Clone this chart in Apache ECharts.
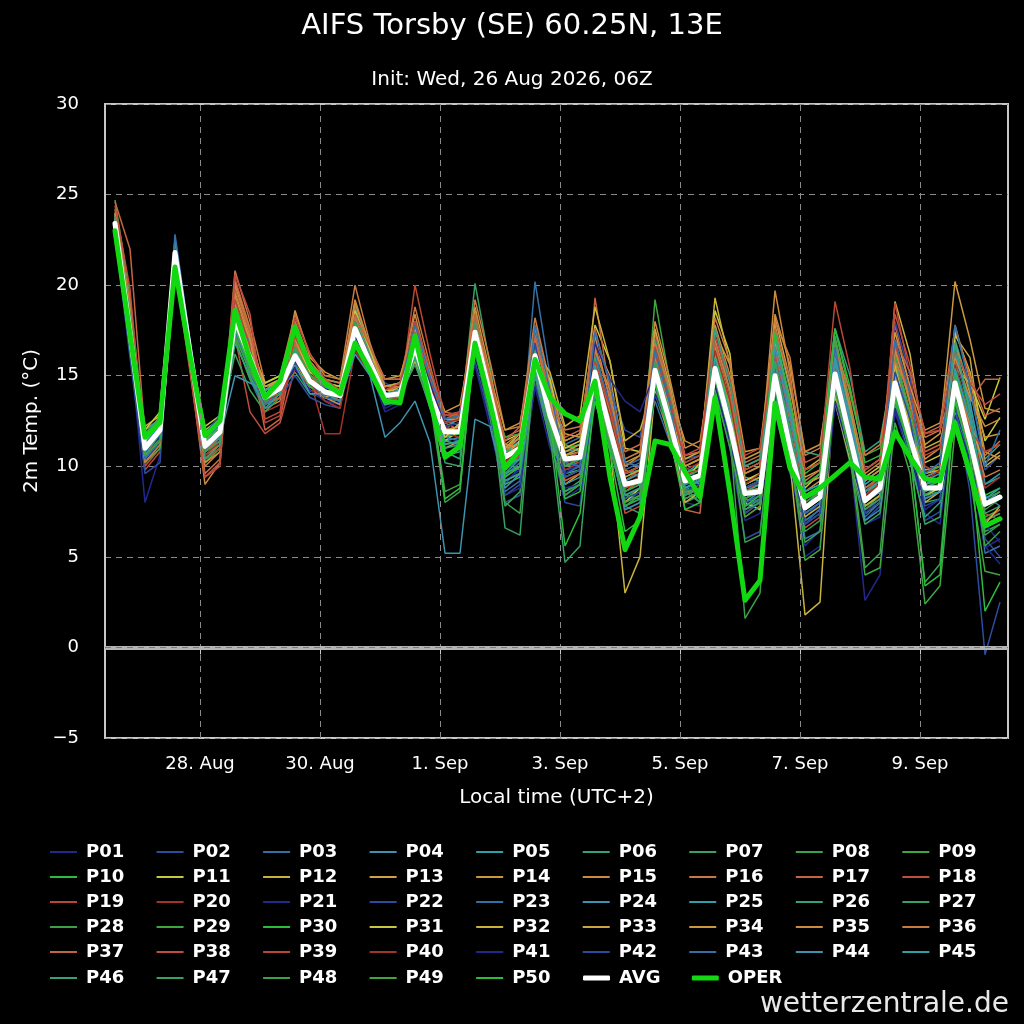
<!DOCTYPE html>
<html>
<head>
<meta charset="utf-8">
<script src="https://cdn.jsdelivr.net/npm/echarts@6/dist/echarts.min.js"></script>
<style>html,body{margin:0;padding:0;background:#000;}#c{width:1024px;height:1024px;}</style>
</head>
<body>
<div id="c"></div>
<script>
// hours since 26 Aug 2026 00:00 local time (UTC+2), 6-hourly
const hours = [14,20,26,32,38,44,50,56,62,68,74,80,86,92,98,104,110,116,122,128,134,140,146,152,158,164,170,176,182,188,194,200,206,212,218,224,230,236,242,248,254,260,266,272,278,284,290,296,302,308,314,320,326,332,338,344,350,356,362,368];
const dayTicks = [48,96,144,192,240,288,336];
const dayLabels = ['28. Aug','30. Aug','1. Sep','3. Sep','5. Sep','7. Sep','9. Sep'];
const yTicks = [-5,0,5,10,15,20,25,30];

const avg = [23.4,17.4,11.0,12.0,21.8,16.3,11.1,11.9,18.1,16.0, 13.8,14.3,16.1,14.7,14.1,13.9,17.6,15.7,13.9,14.0, 16.6,14.0,11.9,11.9,17.4,14.0,10.5,11.0,16.1,12.8, 10.4,10.5,15.2,12.0,9.0,9.2,15.3,12.4,9.2,9.5, 15.4,12.2,8.5,8.6,15.0,11.0,7.7,8.3,15.1,11.6, 8.1,8.8,14.6,11.6,8.8,8.8,14.6,11.4,7.9,8.3];
const oper = [23.0,17.3,11.6,12.4,21.0,16.1,11.7,12.5,18.6,15.9, 13.8,14.7,17.7,15.5,14.6,14.0,16.8,15.3,13.6,13.5, 17.2,13.6,10.5,11.1,16.8,13.5,9.9,10.9,15.9,13.8, 12.9,12.5,14.7,9.4,5.4,7.2,11.4,11.2,9.7,8.3, 13.8,8.5,2.6,3.7,13.5,9.9,8.3,8.8,9.5,10.2, 9.4,9.3,11.9,10.5,9.3,9.2,12.4,9.6,6.7,7.1];

const p01 = [23.2,16.8,8.0,10.6,22.0,16.0,10.2,11.5,17.5,15.2, 13.2,13.8,15.6,14.2,13.6,13.5,18.2,15.9,13.2,13.6, 17.4,14.5,11.0,11.3,18.0,14.2,8.8,9.5,17.3,12.0, 8.2,8.8,14.6,11.3,7.6,8.0,16.0,13.0,8.0,7.8, 16.2,12.5,7.0,7.4,14.2,10.0,5.6,6.5,14.0,11.0, 6.8,7.2,15.6,12.0,7.4,6.8,13.5,10.2,5.5,6.0];
const p02 = [23.6,17.9,11.4,12.4,21.6,16.5,11.6,12.3,18.6,16.5, 14.2,14.6,16.8,15.1,14.3,14.2,18.5,16.2,14.6,14.2, 16.0,13.5,12.4,12.8,17.0,13.0,9.0,10.0,15.5,12.5, 9.8,10.0,14.0,11.0,8.0,8.6,17.2,14.2,10.0,9.2, 14.8,11.0,6.0,6.4,13.0,9.6,6.8,7.7,16.2,12.6, 9.0,9.6,16.0,12.4,7.0,7.5,15.8,12.0,6.0,5.0];
const p03 = [23.0,16.5,10.2,11.4,22.5,16.8,11.8,12.5,17.0,14.8, 13.0,14.1,15.8,14.6,13.8,13.6,17.0,15.1,13.4,13.8, 16.9,14.4,12.6,12.2,16.2,13.4,9.5,10.2,20.2,15.0, 11.2,11.6,16.0,13.4,10.0,10.4,13.6,11.3,8.4,8.8, 15.9,12.8,9.0,9.4,16.4,12.4,6.0,6.4,13.8,10.4, 7.2,8.0,13.2,10.6,8.6,9.0,15.2,12.6,8.4,7.8];
const p04 = [23.5,17.2,10.6,11.8,22.3,16.1,10.8,11.6,17.8,15.5, 13.5,14.0,16.4,15.0,14.5,14.4,17.9,15.4,13.6,14.1, 16.2,13.8,11.4,11.6,17.8,14.4,11.0,11.6,16.6,13.2, 10.8,11.0,15.6,12.2,9.4,9.8,14.6,12.0,9.6,10.2, 14.0,11.4,8.0,8.6,15.6,11.6,8.2,8.8,16.4,12.2, 8.4,9.2,14.0,11.0,9.2,9.6,13.0,10.4,6.6,7.2];
const p05 = [23.8,18.3,11.8,12.6,21.9,16.6,11.4,12.2,18.9,16.8, 14.0,14.5,16.6,14.8,14.4,14.0,17.2,15.6,14.2,14.4, 15.8,13.2,11.8,12.0,17.6,14.6,10.8,11.4,15.8,12.6, 10.0,10.2,15.4,12.6,9.2,9.0,15.8,12.8,8.6,9.4, 16.8,13.4,9.4,9.2,14.6,10.6,7.4,8.0,15.6,11.8, 8.0,9.0,14.4,12.0,9.6,10.0,16.2,13.0,9.0,9.6];
const p06 = [23.3,17.0,10.8,11.9,21.5,16.0,11.0,11.8,18.4,16.2, 14.4,14.8,17.0,15.2,14.6,14.4,18.8,16.4,14.4,14.6, 17.0,14.2,10.8,10.4,18.4,14.8,9.6,10.4,17.0,13.4, 9.6,9.8,16.4,13.0,8.4,8.2,16.6,13.2,8.8,8.0, 17.8,14.0,8.8,9.0,17.6,13.0,9.0,9.4,17.2,13.4, 9.8,10.4,13.6,10.2,7.2,8.0,17.0,14.2,10.4,11.2];
const p07 = [24.0,18.8,10.4,11.6,22.0,16.4,10.6,11.4,17.6,15.8, 13.6,14.2,15.2,14.0,13.8,13.6,17.4,15.8,13.8,13.8, 16.4,14.0,12.0,12.2,20.1,15.6,10.2,9.8,15.4,11.6, 8.6,9.2,14.2,11.4,7.8,7.4,14.0,11.6,8.0,8.4, 15.2,12.0,7.6,8.2,16.0,11.4,7.0,7.6,14.4,11.2, 7.4,8.0,15.0,12.2,8.0,8.2,14.0,11.0,6.4,6.8];
const p08 = [23.1,17.6,11.2,12.2,21.4,16.2,11.5,12.0,18.0,15.6, 13.4,14.0,16.0,14.4,13.9,13.8,17.6,15.5,13.6,13.9, 16.6,14.3,12.2,11.8,17.0,13.6,9.8,10.6,16.4,13.0, 10.6,10.8,15.8,12.6,9.6,10.0,15.6,12.2,9.0,9.6, 15.8,12.6,8.2,8.0,14.8,11.0,7.8,8.6,15.4,11.4, 7.6,8.4,14.8,11.8,8.8,9.2,14.6,11.6,7.6,8.2];
const p09 = [24.7,19.4,11.6,12.8,21.2,16.0,11.2,12.6,18.8,16.6, 14.6,15.0,17.4,15.4,14.8,14.6,16.8,15.2,13.4,13.6, 17.6,14.8,12.8,13.0,18.6,14.2,10.4,11.0,16.8,12.4, 10.2,10.6,14.8,11.6,8.2,8.8,19.2,14.6,9.4,9.8, 16.2,12.4,8.4,8.8,17.2,13.6,9.6,10.2,17.6,14.0, 10.6,11.0,14.2,11.2,8.2,8.6,14.4,11.2,7.2,7.6];
const p10 = [23.6,17.5,11.3,12.3,22.1,16.7,11.6,12.4,19.2,16.4, 14.2,14.6,16.2,14.6,14.0,14.0,18.0,16.0,14.0,14.2, 16.0,13.7,11.6,11.8,17.2,13.8,10.6,11.2,16.2,12.8, 11.0,11.2,15.0,12.0,9.0,9.4,15.0,12.2,9.6,10.0, 14.8,11.6,8.6,9.0,15.2,11.2,8.4,8.8,14.8,11.4, 8.6,9.0,14.8,11.8,9.0,9.2,14.2,11.0,8.4,8.8];
const p11 = [23.2,17.1,11.6,12.5,21.7,16.4,12.2,12.8,18.2,16.6, 14.0,14.4,16.8,15.4,14.6,14.2,18.4,16.0,14.0,14.0, 16.8,14.0,11.4,12.0,17.2,14.6,11.4,11.8,15.8,13.6, 11.4,11.8,17.8,15.8,11.0,10.8,14.8,12.0,9.2,10.2, 18.6,16.2,8.0,7.6,15.0,12.6,8.8,9.6,13.8,11.8, 9.4,10.0,13.6,12.8,10.2,10.6,15.4,14.6,12.6,14.9];
const p12 = [23.4,17.3,12.2,12.8,21.3,15.8,12.0,12.6,17.4,15.2, 13.6,14.0,16.2,14.6,14.0,13.8,17.0,15.4,13.8,13.8, 15.8,13.8,12.2,12.4,16.6,14.0,11.2,11.0,15.2,13.0, 9.4,9.8,13.6,11.0,3.0,5.0,14.2,12.6,10.0,10.4, 19.3,15.6,9.8,10.2,14.0,10.2,1.8,2.5,15.0,12.0, 8.2,8.6,19.1,16.2,11.0,11.4,13.8,11.0,7.0,7.4];
const p13 = [23.0,16.8,11.2,12.1,22.2,16.8,10.8,11.4,18.6,16.2, 14.2,14.8,15.8,14.2,13.8,14.2,17.8,15.8,14.2,14.4, 17.0,14.4,11.0,11.4,16.8,13.4,9.2,9.6,15.0,11.8, 9.0,9.6,14.4,12.0,8.8,9.2,15.4,12.6,8.6,8.6, 16.6,13.6,9.2,9.6,18.2,14.8,9.8,10.4,14.6,11.0, 7.8,8.4,15.8,13.0,9.8,10.0,17.2,16.0,10.2,10.8];
const p14 = [23.7,18.0,12.0,12.6,21.4,15.6,10.4,11.0,20.0,17.4, 13.8,14.0,18.6,16.0,15.2,14.8,18.6,16.2,14.0,14.2, 17.4,14.6,12.6,12.6,18.8,15.2,11.0,11.2,16.6,13.8, 11.8,11.6,16.8,15.0,10.2,10.6,16.0,14.0,11.4,11.0, 17.8,15.0,10.4,10.8,16.2,13.2,9.0,9.4,16.6,12.8, 8.8,9.4,16.4,14.0,11.2,11.8,20.2,17.0,13.2,13.0];
const p15 = [23.9,18.6,10.2,11.2,21.0,15.4,9.0,10.2,19.6,17.2, 13.2,13.6,17.2,15.6,14.6,14.4,19.2,16.6,14.8,14.8, 18.4,15.0,12.0,12.2,18.0,14.8,10.8,11.6,17.6,14.2, 10.6,10.8,17.2,13.6,9.8,9.4,14.4,11.4,8.2,8.6, 17.0,14.2,9.6,10.0,19.7,15.2,8.6,9.2,16.0,12.4, 8.6,9.2,15.0,12.4,9.4,9.8,17.8,14.8,10.8,10.4];
const p16 = [24.2,19.0,11.0,11.8,21.2,15.6,10.0,10.8,20.8,18.0, 14.6,15.0,18.4,16.2,15.0,14.8,20.0,16.8,14.4,14.6, 16.4,13.6,12.0,12.8,19.2,15.8,12.0,12.2,18.2,14.6, 12.0,12.2,15.8,13.0,9.6,10.0,15.2,12.2,9.4,9.0, 16.4,13.0,8.8,9.2,18.0,16.0,10.6,11.0,17.0,13.6, 9.6,10.2,16.6,13.4,9.0,9.4,14.8,12.4,10.6,11.4];
const p17 = [24.6,22.0,11.8,12.2,21.6,16.2,10.6,11.2,18.2,16.4, 12.0,12.6,16.6,15.0,14.2,13.6,17.2,15.6,14.2,14.4, 17.8,15.2,13.0,12.8,16.4,14.0,11.6,12.0,17.0,13.2, 9.2,9.6,19.3,14.0,8.6,9.2,17.4,14.0,7.6,7.4, 15.6,12.4,7.4,8.0,16.8,12.6,8.0,8.6,15.8,12.2, 9.2,9.8,17.8,14.4,10.8,11.2,15.8,13.6,14.8,14.8];
const p18 = [23.6,17.7,10.0,11.0,22.4,16.6,11.4,12.2,17.2,13.0, 11.8,12.4,15.4,14.4,13.6,13.2,18.0,15.8,13.6,13.8, 16.2,13.9,12.4,12.0,17.4,14.2,9.4,10.0,16.2,12.6, 10.4,10.2,14.2,11.8,7.4,7.8,14.8,11.8,8.4,9.0, 14.6,11.8,7.2,7.8,14.4,10.8,6.6,7.2,14.6,11.0, 7.6,8.2,16.8,13.6,9.0,9.4,13.2,11.6,7.0,7.6];
const p19 = [23.0,16.6,9.8,10.8,21.0,15.2,9.4,10.0,20.4,17.6, 13.4,13.8,17.8,15.8,14.8,14.0,17.6,15.4,13.4,13.8, 20.0,16.2,12.8,12.8,17.6,13.6,10.0,10.6,16.0,12.8, 10.2,10.4,15.0,12.4,9.2,9.8,16.8,13.6,9.0,9.4, 15.0,11.6,7.8,8.2,17.0,12.8,8.4,8.8,15.2,11.8, 8.6,9.4,19.0,15.0,10.0,9.6,14.0,11.4,7.4,7.0];
const p20 = [23.3,17.0,10.6,11.6,21.8,16.4,10.8,11.6,18.2,15.8, 13.0,13.4,16.0,14.8,11.8,11.8,16.4,15.0,13.8,14.0, 16.4,14.0,11.8,11.6,17.0,13.8,10.4,10.8,16.4,13.4, 11.0,11.4,14.6,12.2,9.0,9.4,15.6,12.6,9.8,10.2, 15.4,12.2,8.6,9.2,15.4,11.4,7.6,8.2,14.2,11.0, 8.4,9.0,14.0,11.4,8.6,9.0,13.8,11.2,8.0,8.6];
const p21 = [23.1,16.9,10.4,11.2,21.9,16.6,11.2,12.0,17.6,15.4, 13.6,14.2,15.4,14.2,13.6,13.4,17.4,15.4,13.0,13.4, 16.2,14.1,12.0,12.0,16.8,13.2,9.2,9.8,16.6,11.2, 8.8,9.0,13.8,11.0,8.0,8.4,14.0,12.0,8.6,9.0, 14.4,11.4,7.8,8.4,14.0,10.4,5.0,5.6,13.4,10.6, 2.6,4.0,13.0,10.4,7.6,8.2,12.8,10.4,6.8,5.8];
const p22 = [22.8,16.0,9.6,10.2,22.0,16.8,11.8,12.8,17.8,15.0, 13.2,13.8,15.0,13.8,13.4,13.2,17.8,15.8,14.0,14.4, 17.2,14.8,12.2,11.8,15.8,12.6,8.0,8.4,14.6,11.6, 8.0,7.8,14.4,14.2,12.0,11.6,16.2,13.6,10.4,10.6, 14.2,11.0,7.4,8.0,14.8,11.2,7.2,8.0,15.0,11.6, 7.0,7.8,18.0,15.0,8.2,9.0,16.0,13.4,9.8,10.6];
const p23 = [23.4,17.6,11.0,12.0,21.8,16.2,11.0,11.8,18.0,16.0, 13.8,14.4,16.0,14.6,14.2,14.0,17.6,15.8,14.0,14.0, 16.8,14.2,11.6,11.4,16.6,13.0,8.6,9.2,17.4,13.8, 9.6,10.0,16.2,13.4,9.8,10.2,15.6,12.4,9.4,9.8, 15.0,11.8,8.0,8.4,16.0,12.2,7.0,7.6,16.2,12.6, 8.2,8.8,14.0,11.2,8.4,8.8,14.8,12.2,5.2,5.6];
const p24 = [23.5,17.4,11.4,12.2,22.6,16.8,11.4,12.2,17.4,15.6, 14.0,14.6,16.4,14.8,14.4,14.2,17.2,15.2,13.6,13.8, 16.6,13.8,11.6,12.0,17.8,14.2,10.0,10.4,15.6,12.0, 10.0,10.4,15.2,12.2,8.4,8.8,15.4,12.6,9.0,9.6, 16.4,12.8,8.4,8.8,15.0,11.0,7.4,8.0,15.4,11.2, 7.0,7.6,15.4,12.6,9.4,9.8,16.6,13.2,8.0,8.6];
const p25 = [23.6,17.8,12.0,12.6,21.6,16.0,11.0,11.6,18.8,16.6, 14.2,14.6,16.6,15.0,14.4,14.0,17.6,15.6,13.8,14.0, 16.6,14.2,12.2,12.6,17.6,14.0,10.8,11.2,16.0,12.6, 10.2,10.6,15.2,12.0,9.2,9.6,15.8,13.0,9.6,9.8, 16.0,12.6,8.8,9.2,15.6,11.6,8.2,8.8,16.8,13.0, 9.2,9.8,15.2,12.0,9.0,9.4,16.4,13.6,9.0,9.4];
const p26 = [23.2,17.2,10.8,11.8,21.4,16.0,10.6,11.4,17.6,15.6, 13.6,14.2,17.2,15.4,14.8,14.6,18.4,16.2,14.2,14.2, 16.0,13.4,10.6,10.8,17.0,13.8,9.6,10.0,15.8,12.2, 9.4,9.8,14.6,11.6,8.6,9.0,14.8,11.8,8.4,8.8, 14.8,11.8,7.8,8.2,17.6,14.2,10.8,10.6,17.6,15.0, 10.8,11.4,16.0,12.6,8.6,9.0,15.0,12.0,7.8,8.4];
const p27 = [23.9,18.2,11.6,12.4,21.6,16.2,11.2,12.0,18.4,16.2, 14.0,14.4,16.2,14.6,14.0,13.8,18.2,16.4,14.4,14.6, 17.2,14.6,11.2,11.4,18.2,14.4,10.2,10.4,16.8,13.0, 10.6,11.0,16.0,12.8,9.6,9.8,17.0,13.8,10.2,10.6, 15.4,12.0,8.2,8.8,14.6,10.6,7.6,8.2,13.6,10.2, 6.8,7.4,13.4,10.6,6.8,7.2,14.2,11.2,7.0,7.4];
const p28 = [23.0,16.4,10.4,11.6,22.2,16.6,11.6,12.4,16.2,14.2, 13.0,13.8,16.8,15.0,14.6,14.4,17.0,15.4,13.8,14.0, 15.6,13.4,10.6,11.0,16.4,12.8,7.8,8.6,15.0,11.4, 8.4,9.0,14.2,11.0,7.8,8.2,16.6,13.4,8.6,8.0, 15.0,12.0,5.8,6.2,14.2,11.0,6.4,7.0,16.0,12.4, 7.8,8.4,14.6,11.4,8.4,8.6,12.6,10.0,6.2,6.8];
const p29 = [23.7,18.0,11.8,12.6,21.4,15.8,10.8,11.6,17.0,14.8, 13.4,14.0,15.8,14.4,14.0,14.0,16.8,15.0,13.6,13.8, 16.2,14.0,11.8,12.0,17.4,14.4,11.6,11.8,16.6,13.2, 11.2,10.8,14.8,11.4,7.8,8.4,15.8,12.8,9.2,9.4, 14.2,11.0,7.2,7.8,14.4,10.2,6.8,7.4,17.0,13.2, 8.8,9.4,16.2,13.0,9.6,10.0,15.6,12.8,8.2,8.6];
const p30 = [23.3,17.2,10.2,11.0,21.2,15.8,10.2,11.0,17.6,15.4, 13.6,14.4,16.0,14.4,14.0,13.8,17.4,15.4,13.6,13.8, 16.8,14.0,11.4,11.2,17.0,13.4,9.0,9.4,15.6,12.4, 8.2,8.6,14.4,11.8,8.8,9.2,15.0,12.2,9.0,9.4, 16.2,13.2,9.0,9.4,15.6,11.8,8.2,8.6,15.4,12.0, 8.6,9.2,14.0,11.6,8.8,9.0,15.2,12.0,8.0,8.4];
const p31 = [23.2,17.4,12.0,13.0,21.8,16.4,11.8,12.6,18.0,16.6, 14.6,15.0,16.8,15.2,14.6,14.4,18.6,16.4,14.2,14.2, 16.2,13.8,11.6,12.4,17.0,14.0,11.0,11.8,16.2,14.8, 11.0,11.4,14.4,11.4,8.0,8.8,15.6,12.6,9.6,9.8, 15.8,12.8,9.2,9.6,14.4,11.0,7.6,8.2,13.6,10.4, 7.4,8.0,13.8,11.2,8.4,8.8,17.4,15.2,11.4,12.7];
const p32 = [23.5,17.5,11.0,12.0,21.6,16.0,11.4,12.4,18.4,16.2, 14.4,14.8,16.4,14.8,14.2,14.0,17.6,15.6,14.0,14.4, 16.6,14.4,12.4,12.6,17.4,14.4,10.4,11.0,16.4,15.2, 12.2,12.8,18.8,15.8,11.4,12.0,14.6,11.6,8.0,8.6, 16.0,12.6,8.6,8.8,14.8,10.8,7.2,7.8,15.2,11.8, 7.8,8.4,15.6,12.2,8.0,8.6,14.4,11.4,6.8,7.8];
const p33 = [23.4,17.4,11.4,12.4,21.9,16.6,11.0,11.8,18.6,16.4, 14.0,14.6,16.2,14.6,14.2,14.0,17.0,15.2,14.4,14.6, 17.2,14.4,12.0,12.2,17.0,13.6,10.6,11.4,16.8,13.8, 10.6,11.0,15.8,13.0,9.4,9.8,17.6,14.4,10.4,10.8, 15.2,12.4,9.0,9.4,16.8,13.6,9.4,9.8,14.0,11.0, 8.0,8.6,15.0,12.0,9.6,9.8,14.0,12.4,10.0,10.6];
const p34 = [23.7,18.4,11.2,12.2,21.2,15.6,10.4,11.2,19.0,17.0, 14.4,14.6,16.6,14.8,13.8,13.4,17.8,16.0,14.8,15.0, 17.6,15.0,13.0,13.4,17.8,15.0,12.0,12.4,16.6,13.6, 10.8,11.2,15.4,12.6,9.6,10.0,16.2,13.2,10.0,10.4, 17.4,15.6,10.8,11.0,17.8,14.4,9.8,10.2,14.8,11.6, 9.8,10.4,17.4,14.4,12.0,12.4,16.8,14.0,11.6,11.8];
const p35 = [24.0,18.6,10.6,11.4,21.6,16.2,10.2,10.8,19.4,17.0, 13.6,14.0,17.0,15.4,14.6,14.2,19.0,16.6,14.4,14.4, 18.0,15.2,12.6,12.8,17.0,14.0,11.0,11.6,17.8,14.4, 11.4,11.8,16.4,14.2,10.0,10.6,18.0,14.8,11.0,11.4, 16.6,13.4,9.6,10.0,18.4,15.6,10.8,11.2,16.6,13.2, 9.2,9.8,16.4,13.6,10.4,11.0,16.0,13.8,12.2,12.6];
const p36 = [23.6,17.8,10.2,11.2,21.0,15.6,9.6,10.4,20.2,17.6, 13.8,14.2,18.0,15.8,14.8,14.6,18.2,16.0,14.2,14.4, 18.8,15.6,12.4,12.6,17.6,14.6,11.2,11.8,17.2,13.4, 10.4,10.6,16.6,13.8,10.4,10.8,16.8,14.2,10.6,10.8, 18.2,15.8,10.2,10.6,17.0,13.8,9.2,9.8,16.4,14.2, 10.6,11.2,15.8,14.0,11.6,12.0,14.8,12.2,9.4,9.8];
const p37 = [23.8,18.4,11.6,12.4,21.4,16.0,10.8,11.6,19.8,17.4, 13.4,13.8,16.8,15.0,14.2,14.0,18.4,16.6,14.8,14.8, 17.0,14.6,12.6,13.0,18.4,15.0,11.4,12.2,17.2,14.0, 11.6,12.0,17.6,14.4,10.8,11.2,15.6,12.4,8.8,9.2, 16.8,14.0,10.0,10.4,17.6,14.8,10.2,10.6,15.6,12.0, 8.8,9.4,17.0,15.2,11.8,12.2,17.6,15.0,12.8,13.2];
const p38 = [24.4,19.8,10.6,11.4,21.2,15.4,9.4,10.2,20.6,18.4, 12.6,13.0,18.2,16.2,14.8,14.2,17.8,15.8,14.2,14.6, 17.4,14.8,12.8,13.0,17.8,14.2,10.2,10.8,16.6,13.0, 10.0,10.4,15.0,12.2,8.8,9.2,16.2,13.4,10.6,11.0, 17.2,14.6,9.8,10.2,16.2,12.8,9.0,9.6,15.4,12.0, 8.6,9.2,18.4,15.6,11.8,12.0,16.4,14.6,13.4,14.0];
const p39 = [23.4,17.6,10.8,11.8,21.6,16.2,10.4,11.0,19.2,16.6, 12.4,12.8,17.2,15.4,14.0,13.6,17.4,15.4,14.0,14.2, 18.0,15.4,12.8,13.0,17.2,14.0,10.6,11.2,16.8,13.2, 10.4,10.8,15.8,13.2,9.6,10.0,16.6,13.6,10.2,10.6, 17.6,14.8,10.6,11.0,16.6,13.4,9.8,10.2,19.1,15.4, 9.8,10.4,16.8,14.2,10.6,11.0,14.6,12.0,10.8,11.2];
const p40 = [23.5,17.8,11.0,11.6,21.4,15.8,10.6,11.4,17.8,15.8, 13.6,14.0,15.8,14.6,13.6,13.2,17.0,15.2,13.6,13.8, 16.6,14.4,12.4,12.6,17.6,14.2,10.2,11.0,16.2,12.8, 9.8,10.2,15.6,12.8,9.2,9.6,15.6,12.6,9.6,9.8, 16.4,13.6,9.0,9.6,15.0,11.6,8.4,8.8,14.6,11.2, 8.4,9.0,14.4,11.6,9.2,9.8,15.6,12.6,8.8,9.4];
const p41 = [23.2,17.0,10.8,11.6,21.6,16.4,11.0,11.8,18.0,15.8, 13.8,14.2,15.8,14.6,14.0,13.8,17.2,15.6,14.0,14.2, 17.0,14.6,12.2,12.4,15.6,12.2,8.4,8.8,14.4,11.0, 9.6,10.2,16.8,14.8,13.6,13.0,15.2,12.0,8.8,9.0, 14.6,11.4,7.8,8.4,14.2,10.8,6.8,7.4,13.6,10.6, 7.4,8.2,13.2,10.8,7.6,8.2,12.4,10.2,5.6,4.6];
const p42 = [23.3,17.2,11.2,12.2,22.0,16.4,11.2,12.0,18.2,16.0, 13.8,14.2,16.0,14.6,14.0,13.8,17.4,15.4,13.8,14.0, 16.4,14.0,11.8,12.0,16.4,13.0,8.4,9.0,16.8,12.8, 9.4,9.8,14.6,11.8,8.2,8.6,14.4,11.8,8.6,9.0, 15.2,12.2,8.8,9.2,14.0,10.6,6.8,7.4,14.6,11.0, 7.4,8.0,15.2,12.6,7.8,8.2,13.4,8.6,-0.4,2.5];
const p43 = [23.1,16.8,10.4,11.4,22.8,17.0,11.6,12.2,17.4,15.2, 13.4,14.0,16.2,14.6,13.8,13.6,18.0,16.0,14.0,14.2, 17.8,15.0,12.6,12.8,17.6,13.8,9.8,10.4,17.8,14.2, 10.2,10.0,17.4,14.6,10.2,10.0,16.4,13.4,9.0,9.2, 15.8,12.4,7.8,8.2,15.4,11.6,7.4,8.0,16.6,12.4, 8.0,8.6,17.0,14.0,9.6,10.2,17.8,14.4,10.0,12.0];
const p44 = [23.4,17.4,10.8,11.8,21.8,16.2,11.0,11.6,15.0,14.6, 14.2,14.4,15.6,14.0,14.0,13.6,16.2,15.0,11.6,12.4, 13.6,11.3,5.2,5.2,12.6,12.2,8.8,9.6,15.2,11.8, 9.0,9.4,14.0,11.2,7.6,8.0,14.8,12.0,8.8,9.2, 15.6,12.4,8.4,8.8,16.6,12.8,8.6,9.0,15.8,12.4, 8.6,9.2,14.4,11.6,8.2,8.6,14.4,11.4,8.0,8.4];
const p45 = [23.6,17.6,11.2,12.2,21.8,16.4,11.4,12.2,18.2,16.2, 14.2,14.6,16.4,14.8,14.2,14.0,17.8,15.8,14.0,14.2, 16.4,13.8,11.2,11.4,17.2,13.6,10.0,10.4,16.0,12.4, 10.0,10.4,15.6,12.4,9.2,9.6,14.8,11.6,8.8,9.2, 16.0,12.8,8.6,9.0,17.2,13.2,8.6,9.0,16.0,12.6, 9.0,9.6,14.6,11.8,9.0,9.4,15.4,12.6,8.2,8.8];
const p46 = [23.0,16.6,10.6,11.8,21.2,15.8,10.4,11.2,16.8,15.0, 13.2,14.0,16.4,14.8,14.2,14.0,17.0,15.2,13.4,13.6, 16.0,13.8,11.0,11.2,16.8,13.6,9.2,9.6,16.4,12.6, 8.6,9.0,14.6,11.8,8.4,8.8,15.8,12.8,9.0,9.4, 17.6,14.6,10.0,10.4,15.8,12.0,7.8,8.4,15.2,11.6, 8.2,8.8,14.6,11.8,8.8,9.2,16.8,13.0,7.8,8.2];
const p47 = [23.8,18.4,11.2,12.0,21.8,16.4,11.2,12.0,18.4,16.2, 14.0,14.4,16.0,14.6,14.2,14.0,17.6,15.6,13.8,14.0, 17.0,14.4,10.2,10.0,17.8,14.0,6.6,6.2,16.0,11.8, 4.7,5.6,14.4,11.6,7.8,8.2,15.8,12.6,8.2,8.6, 14.8,11.8,7.6,8.0,15.8,12.0,8.0,8.6,14.6,11.0, 7.6,8.2,13.8,11.2,8.4,9.0,14.0,11.4,7.4,7.8];
const p48 = [23.2,16.8,10.6,11.4,21.6,16.0,10.8,11.4,17.8,15.8, 13.6,14.2,16.6,15.0,14.4,14.2,18.0,15.8,14.0,14.0, 16.2,13.6,8.0,8.6,17.4,13.8,8.0,7.4,15.8,12.6, 8.4,9.0,15.2,12.2,8.6,9.0,15.2,12.4,9.4,9.8, 15.4,11.6,1.6,3.0,14.2,10.4,5.8,6.4,14.8,11.2, 4.4,5.2,14.0,10.8,3.6,4.6,13.8,10.6,5.6,6.4];
const p49 = [23.5,17.6,11.0,12.0,21.6,16.2,11.0,11.8,17.2,15.2, 13.8,14.2,16.0,14.6,14.0,13.8,17.0,15.4,13.8,13.8, 16.4,14.0,8.6,9.0,17.2,14.2,10.8,11.0,15.8,12.2, 10.0,10.4,14.2,11.2,8.0,8.4,14.6,11.8,8.6,8.8, 14.8,11.8,8.2,8.6,14.8,10.8,4.8,5.4,14.2,10.6, 4.0,4.4,12.4,9.6,2.4,3.4,12.0,9.4,4.2,4.0];
const p50 = [23.4,17.2,11.0,12.0,21.8,16.4,11.4,12.2,18.0,16.0, 13.8,14.2,16.2,14.8,14.2,14.0,17.6,15.6,13.8,14.0, 16.6,14.2,8.2,8.8,16.8,13.4,9.4,10.0,16.2,12.6, 5.6,7.4,13.6,10.8,6.4,7.0,14.6,11.6,7.6,8.0, 15.4,12.2,7.8,8.4,17.4,13.6,9.0,9.6,17.6,14.4, 10.2,10.6,13.8,10.8,3.4,4.0,13.6,10.6,2.0,3.6];

const members = [p01,p02,p03,p04,p05,p06,p07,p08,p09,p10,p11,p12,p13,p14,p15,p16,p17,p18,p19,p20,p21,p22,p23,p24,p25,p26,p27,p28,p29,p30,p31,p32,p33,p34,p35,p36,p37,p38,p39,p40,p41,p42,p43,p44,p45,p46,p47,p48,p49,p50];
const memberNames = ['P01','P02','P03','P04','P05','P06','P07','P08','P09','P10','P11','P12','P13','P14','P15','P16','P17','P18','P19','P20','P21','P22','P23','P24','P25','P26','P27','P28','P29','P30','P31','P32','P33','P34','P35','P36','P37','P38','P39','P40','P41','P42','P43','P44','P45','P46','P47','P48','P49','P50'];
const palette = ['#23288c','#2c4c9e','#3470a6','#3e92b0','#30a0a4','#34a080','#37a062','#3aa04c','#3ea63e','#2cbc3c','#c8c840','#c8b23c','#cca442','#cc983c','#cc8a40','#c87a40','#c46440','#c24c40','#ba4636','#a43228'];

const FONT = 'DejaVu Sans';
const series = [];
// background grid lines (vertical day lines and zero line)
series.push({
  type: 'line', data: [], z: 1, silent: true, animation: false,
  markLine: {
    silent: true, symbol: 'none', animation: false,
    label: {show: false},
    lineStyle: {color: '#8a8a8a', type: [6, 5], width: 1},
    data: dayTicks.map(v => ({xAxis: v})).concat([
      {yAxis: 0, lineStyle: {color: '#b4b4b4', type: 'solid', width: 4}},
      {yAxis: 0, lineStyle: {color: '#7a7a7a', type: [6, 5], width: 1}}
    ])
  }
});
members.forEach((arr, i) => {
  series.push({
    name: memberNames[i], type: 'line', symbol: 'none', z: 2, silent: true, animation: false,
    color: palette[i % 20],
    lineStyle: {width: 1.5, color: palette[i % 20]},
    data: hours.map((h, k) => [h, arr[k]])
  });
});
series.push({
  name: 'AVG', type: 'line', symbol: 'none', z: 3, silent: true, animation: false,
  color: '#ffffff', lineStyle: {width: 5, color: '#ffffff', cap: 'round', join: 'round'},
  data: hours.map((h, k) => [h, avg[k]])
});
series.push({
  name: 'OPER', type: 'line', symbol: 'none', z: 4, silent: true, animation: false,
  color: '#12d812', lineStyle: {width: 5, color: '#12d812', cap: 'round', join: 'round'},
  data: hours.map((h, k) => [h, oper[k]])
});

const rowCenters = [851, 876, 901, 926, 951, 977];
const legendText = {color: '#ffffff', fontFamily: FONT, fontWeight: 'bold', fontSize: 18, padding: [0, 0, 0, 4]};
const legends = rowCenters.map((c, r) => ({
  left: 50, top: c - 8, orient: 'horizontal', padding: 0,
  data: memberNames.slice(r * 9, r * 9 + 9),
  icon: 'rect', itemWidth: 27, itemHeight: 2, itemGap: 32.3,
  selectedMode: false, textStyle: legendText
}));
legends.push({
  left: 583, top: rowCenters[5] - 8, orient: 'horizontal', padding: 0,
  data: ['AVG', 'OPER'],
  icon: 'roundRect', itemWidth: 27, itemHeight: 5, itemGap: 31.4,
  selectedMode: false, textStyle: legendText
});

const chart = echarts.init(document.getElementById('c'), null, {renderer: 'canvas'});
chart.setOption({
  backgroundColor: '#000000',
  animation: false,
  title: [
    {text: 'AIFS Torsby (SE) 60.25N, 13E', left: 'center', top: 7, textStyle: {color: '#ffffff', fontFamily: FONT, fontWeight: 'normal', fontSize: 29}},
    {text: 'Init: Wed, 26 Aug 2026, 06Z', left: 'center', top: 65, textStyle: {color: '#ffffff', fontFamily: FONT, fontWeight: 'normal', fontSize: 20}},
    {text: 'wetterzentrale.de', right: 10, top: 986, textStyle: {color: '#e8e8e8', fontFamily: FONT, fontWeight: 'normal', fontSize: 28}}
  ],
  legend: legends,
  grid: {left: 105, right: 16, top: 104, bottom: 286, show: true, borderColor: '#c8c8c8', borderWidth: 2, backgroundColor: 'transparent'},
  xAxis: {
    type: 'value', min: 10, max: 371.2,
    name: 'Local time (UTC+2)', nameLocation: 'middle', nameGap: 50,
    nameTextStyle: {color: '#ffffff', fontFamily: FONT, fontSize: 20},
    axisLine: {show: true, lineStyle: {color: '#c8c8c8', width: 2}},
    axisTick: {show: true, inside: false, length: 7, customValues: dayTicks, lineStyle: {color: '#c8c8c8', width: 1}},
    axisLabel: {customValues: dayTicks, color: '#ffffff', fontFamily: FONT, fontSize: 18, margin: 17,
      formatter: v => { const i = dayTicks.indexOf(v); return i >= 0 ? dayLabels[i] : ''; }},
    splitLine: {show: false}
  },
  yAxis: {
    type: 'value', min: yTicks[0], max: yTicks[yTicks.length - 1], interval: 5,
    name: '2m Temp. (°C)', nameLocation: 'middle', nameGap: 57, nameRotate: 90,
    nameTextStyle: {color: '#ffffff', fontFamily: FONT, fontSize: 20},
    axisLine: {show: true, lineStyle: {color: '#c8c8c8', width: 2}},
    axisTick: {show: false},
    axisLabel: {color: '#ffffff', fontFamily: FONT, fontSize: 18, margin: 26,
      formatter: v => v < 0 ? '\u2212' + Math.abs(v) : String(v)},
    splitLine: {show: true, lineStyle: {color: '#8a8a8a', type: [6, 5], width: 1}}
  },
  series: series
});
</script>
</body>
</html>
